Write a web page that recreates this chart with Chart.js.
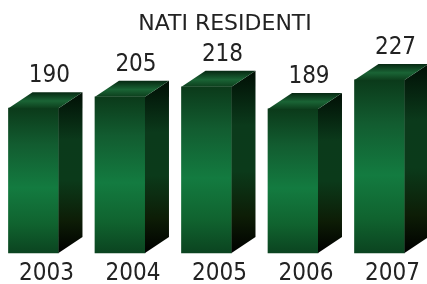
<!DOCTYPE html>
<html>
<head>
<meta charset="utf-8">
<script src="https://cdn.jsdelivr.net/npm/chart.js@4/dist/chart.umd.min.js"></script>
<style>
  html, body { margin: 0; padding: 0; background: #ffffff; }
  #c { display: block; }
</style>
</head>
<body>
<canvas id="c" width="427" height="284"></canvas>
<script>
const chartTitle = 'NATI RESIDENTI';
const categories = ['2003', '2004', '2005', '2006', '2007'];
const births = [190, 205, 218, 189, 227];

const DEPTH_X = 24;
const DEPTH_Y = 16;
const NUM_FONT = "'DejaVu Sans Condensed', 'DejaVu Sans', sans-serif";

function frontGradient(context) {
  const chart = context.chart;
  if (!chart.chartArea || context.raw === undefined) return '#137a3f';
  const ys = chart.scales.y;
  const top = ys.getPixelForValue(context.raw);
  const bottom = ys.getPixelForValue(0);
  const g = chart.ctx.createLinearGradient(0, top, 0, bottom);
  g.addColorStop(0, '#0b3a1a');
  g.addColorStop(0.25, '#125c30');
  g.addColorStop(0.55, '#137b40');
  g.addColorStop(0.8, '#10632f');
  g.addColorStop(1, '#0b4420');
  return g;
}

const bars3d = {
  id: 'bars3d',
  afterDatasetsDraw(chart) {
    const ctx = chart.ctx;
    const meta = chart.getDatasetMeta(0);
    ctx.save();
    meta.data.forEach((bar, i) => {
      const p = bar.getProps(['x', 'y', 'base', 'width'], true);
      const x0 = p.x - p.width / 2;
      const x1 = p.x + p.width / 2;
      const top = p.y;
      const base = p.base;

      // side face
      const sg = ctx.createLinearGradient(0, top - DEPTH_Y, 0, base);
      sg.addColorStop(0, '#010f05');
      sg.addColorStop(0.3, '#0b3a1b');
      sg.addColorStop(0.55, '#0b3a1a');
      sg.addColorStop(0.8, '#0d1d06');
      sg.addColorStop(1, '#000000');
      ctx.beginPath();
      ctx.moveTo(x1, top);
      ctx.lineTo(x1 + DEPTH_X, top - DEPTH_Y);
      ctx.lineTo(x1 + DEPTH_X, base - DEPTH_Y);
      ctx.lineTo(x1, base);
      ctx.closePath();
      ctx.fillStyle = sg;
      ctx.fill();

      // top face
      const tg = ctx.createLinearGradient(0, top, 0, top - DEPTH_Y);
      tg.addColorStop(0, '#0d3f1d');
      tg.addColorStop(0.45, '#1a6435');
      tg.addColorStop(1, '#062812');
      ctx.beginPath();
      ctx.moveTo(x0, top);
      ctx.lineTo(x1, top);
      ctx.lineTo(x1 + DEPTH_X, top - DEPTH_Y);
      ctx.lineTo(x0 + DEPTH_X, top - DEPTH_Y);
      ctx.closePath();
      ctx.fillStyle = tg;
      ctx.fill();

      // value label
      ctx.fillStyle = '#222222';
      ctx.font = '24px ' + NUM_FONT;
      ctx.textAlign = 'center';
      ctx.textBaseline = 'alphabetic';
      ctx.fillText(String(births[i]), p.x + 16, top - DEPTH_Y - 10);
    });
    ctx.restore();
  }
};

new Chart(document.getElementById('c'), {
  type: 'bar',
  data: {
    labels: categories,
    datasets: [{
      data: births,
      backgroundColor: frontGradient,
      borderWidth: 0,
      barThickness: 50,
      clip: false
    }]
  },
  options: {
    responsive: false,
    animation: false,
    layout: { padding: { left: 32, right: 9, top: 0, bottom: 0 } },
    plugins: {
      legend: { display: false },
      tooltip: { enabled: false },
      title: {
        display: true,
        text: chartTitle,
        color: '#222222',
        font: { family: "'DejaVu Sans', sans-serif", size: 22, weight: 'normal' },
        padding: { top: 11, bottom: 25 }
      }
    },
    scales: {
      x: {
        type: 'category',
        offset: false,
        grid: { display: false, drawTicks: false },
        border: { display: false },
        ticks: {
          color: '#222222',
          font: { family: NUM_FONT, size: 24 },
          labelOffset: 13,
          padding: 6
        },
        afterFit(scale) { scale.height = 31; }
      },
      y: {
        position: 'right',
        min: 0,
        max: 250,
        display: true,
        grid: { display: false, drawTicks: false },
        border: { display: false },
        ticks: { display: false },
        afterFit(scale) { scale.width = 38.5; }
      }
    }
  },
  plugins: [bars3d]
});
</script>
</body>
</html>
